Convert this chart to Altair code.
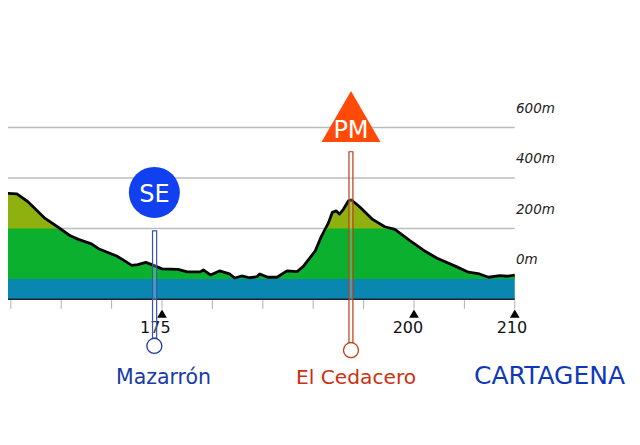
import altair as alt
import pandas as pd

# Elevation profile (km, metres)
km = [158.9,159.6,160.6,161.7,163.4,164.7,165.9,166.7,168.0,168.7,170.5,171.3,172.0,172.6,173.4,174.1,175.0,
      176.6,177.5,178.8,179.1,179.8,180.7,181.7,182.2,182.9,183.7,184.4,184.7,185.5,186.4,187.4,188.4,189.0,
      190.2,190.8,191.5,191.9,192.3,192.6,193.0,193.5,193.8,194.6,195.9,197.1,198.1,199.6,200.9,202.3,204.2,
      205.4,206.5,207.4,208.5,209.3,210.0]
elev = [350,339,337,306,240,205,171,157,139,120,91,72,54,57,66,55,40,
        38,28,28,36,16,32,20,4,12,5,9,20,7,7,32,29,49,
        111,168,221,264,270,257,276,310,313,286,236,207,197,152,115,82,49,
        27,20,7,13,11,15]
base_level = [-80]
grid_levels = [600, 400, 200, 0]
grid_labels = ["600m", "400m", "200m", "0m"]
grid_label_m = [657, 459, 257, 59]
minor_ticks = [160,165,170,175,180,185,190,195,200,205,210]
major_ticks = [175, 200, 210]
major_labels = ["175", "200", "210"]
major_label_km = [174.34, 199.4, 209.72]
names = ["Mazarrón", "El Cedacero", "CARTAGENA"]
name_km = [175.15, 194.25, 213.45]
name_colors = ["#1a3aa8", "#cc3010", "#0f38b8"]
name_sizes = [20.5, 20.2, 25]

X = alt.Scale(domain=[159.72, 221.63], nice=False, zero=False)
Y = alt.Scale(domain=[-625.7, 1073.3], nice=False, zero=False)
def x(f): return alt.X(f + ":Q", scale=X, axis=None)
def y(f): return alt.Y(f + ":Q", scale=Y, axis=None)

prof = pd.DataFrame({"km": km, "e": elev})
prof["low"] = prof["e"].clip(upper=200)
prof["z"] = 0
prof["t"] = 200
prof["b"] = base_level[0]

grid = alt.Chart(pd.DataFrame({"a":[159.0]*4, "b":[210]*4, "m":grid_levels})).mark_rule(color="#bcbcbc", strokeWidth=1.5).encode(x=x("a"), x2="b:Q", y=y("m"))
grid_txt = alt.Chart(pd.DataFrame({"k":[210.12]*4, "m":grid_label_m, "t":grid_labels})).mark_text(
    align="left", baseline="alphabetic", font="DejaVu Sans", fontStyle="italic", fontSize=13.5, color="#222222"
).encode(x=x("k"), y=y("m"), text="t:N")

olive = alt.Chart(prof).mark_area(color="#8fb10f").encode(x=x("km"), y=y("e"), y2="z:Q")
green = alt.Chart(prof).mark_area(color="#0cb02f").encode(x=x("km"), y=y("low"), y2="z:Q")
blue = alt.Chart(prof).mark_area(color="#0a87b1").encode(x=x("km"), y=y("z"), y2="b:Q")
line = alt.Chart(prof).mark_line(color="#050505", strokeWidth=2.8, strokeJoin="round").encode(x=x("km"), y=y("e"))

base = alt.Chart(pd.DataFrame({"a":[159.0], "b":[210], "m":base_level})).mark_rule(color="#20203a", strokeWidth=1.6).encode(x=x("a"), x2="b:Q", y=y("m"))
ticks = alt.Chart(pd.DataFrame({"k":minor_ticks, "a":[-84]*11, "b":[-118]*11})).mark_rule(color="#b0b0b0", strokeWidth=1).encode(x=x("k"), y=y("a"), y2="b:Q")
tri = alt.Chart(pd.DataFrame({"k":major_ticks, "m":[-137]*3})).mark_point(shape="triangle-up", filled=True, opacity=1, color="black", size=95).encode(x=x("k"), y=y("m"))
tick_txt = alt.Chart(pd.DataFrame({"k":major_label_km, "m":[-214]*3, "t":major_labels})).mark_text(
    align="center", baseline="alphabetic", font="DejaVu Sans", fontSize=16, color="#111111"
).encode(x=x("k"), y=y("m"), text="t:N")

stems = pd.DataFrame({"a":[174.06,193.55], "b":[174.47,193.94], "top":[191,504], "bot":[-234,-253], "c":["#3a55a8","#c03a10"]})
stem = alt.Chart(stems).mark_rect(fill="white", fillOpacity=0.2, strokeWidth=1.2).encode(
    x=x("a"), x2="b:Q", y=y("top"), y2="bot:Q", stroke=alt.Stroke("c:N", scale=None))
bulbs = pd.DataFrame({"k":[174.24,193.75], "m":[-265,-282], "c":["#1a3aa0","#c03a10"]})
bulb = alt.Chart(bulbs).mark_point(shape="circle", filled=False, fill="white", fillOpacity=1, opacity=1, size=225, strokeWidth=1.3).encode(
    x=x("k"), y=y("m"), stroke=alt.Stroke("c:N", scale=None))

se = alt.Chart(pd.DataFrame({"k":[174.24], "m":[343]})).mark_point(shape="circle", filled=True, opacity=1, color="#1040f0", size=2601).encode(x=x("k"), y=y("m"))
pm = alt.Chart(pd.DataFrame({"k":[193.75], "m":[643.6]})).mark_point(shape="triangle-up", filled=True, opacity=1, color="#ff4a08", size=3481).encode(x=x("k"), y=y("m"))
badge_txt = alt.Chart(pd.DataFrame({"k":[174.24,193.75], "m":[306,558], "t":["SE","PM"]})).mark_text(
    align="center", baseline="alphabetic", font="DejaVu Sans", fontSize=24, color="white"
).encode(x=x("k"), y=y("m"), text="t:N")

name_txt = alt.Chart(pd.DataFrame({"k":name_km, "m":[-416]*3, "t":names, "c":name_colors, "s":name_sizes})).mark_text(
    align="center", baseline="alphabetic", font="DejaVu Sans"
).encode(x=x("k"), y=y("m"), text="t:N", color=alt.Color("c:N", scale=None), size=alt.Size("s:Q", scale=None))

chart = alt.layer(grid, grid_txt, olive, green, blue, line, base, ticks, tri, tick_txt, stem, bulb, se, pm, badge_txt, name_txt).properties(
    width=624, height=429, padding=0, autosize=alt.AutoSizeParams(type="none"), background="white"
).configure_view(stroke=None)

chart.save("out.html", embed_options={"renderer": "svg", "actions": False})
